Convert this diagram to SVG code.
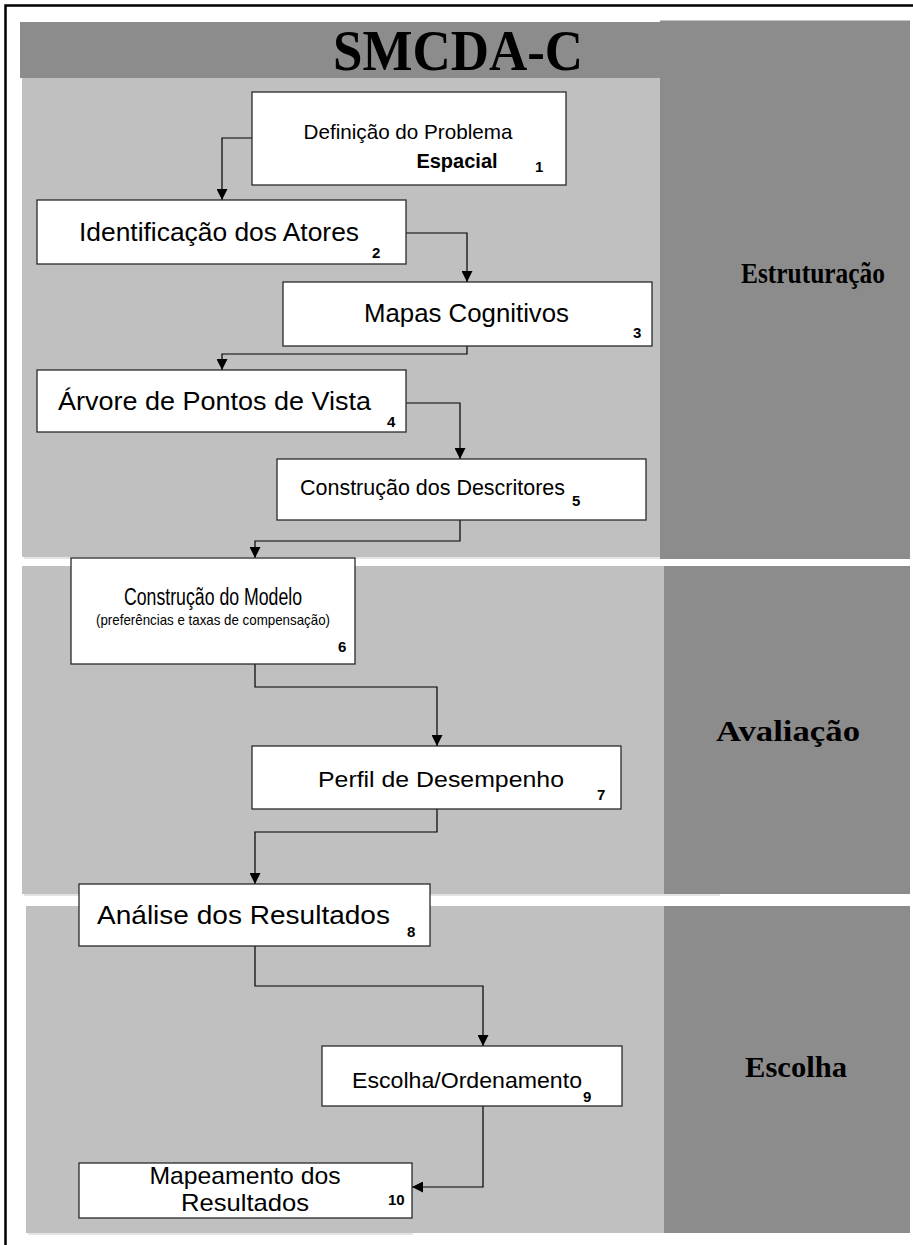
<svg xmlns="http://www.w3.org/2000/svg" width="913" height="1245" viewBox="0 0 913 1245">
  <style>
    .band { fill: #c0c0c0; }
    .strip { fill: #8c8c8c; }
    .shade { fill: #e4e4e4; }
    .box { fill: #ffffff; stroke: #2a2a2a; stroke-width: 1.3; }
    .t { font-family: "Liberation Sans", Arial, sans-serif; fill: #000; }
    .n { font-family: "Liberation Sans", Arial, sans-serif; font-weight: bold; font-size: 15px; fill: #000; }
    .sec { font-family: "Liberation Serif", "Times New Roman", serif; font-weight: bold; font-size: 29px; fill: #000; text-anchor: middle; }
    .conn { fill: none; stroke: #000; stroke-width: 1.2; marker-end: url(#arr); }
  </style>
  <defs>
    <marker id="arr" viewBox="0 0 10 10" refX="10" refY="5" markerWidth="11" markerHeight="11" orient="auto" markerUnits="userSpaceOnUse">
      <path d="M0,0 L10,5 L0,10 z" fill="#000"/>
    </marker>
  </defs>

  <rect width="913" height="1245" fill="#ffffff"/>

  <!-- outer frame (runs off the right and bottom edges) -->
  <path d="M5.5,1245 V5.5 H913" fill="none" stroke="#000" stroke-width="2.5"/>

  <!-- phase bands -->
  <g id="bands">
    <rect class="shade" x="24" y="556" width="703" height="3"/>
    <rect class="shade" x="24" y="893" width="696" height="3"/>
    <rect class="shade" x="28" y="1232" width="385" height="3"/>
    <rect class="band" x="22" y="78" width="640" height="479"/>
    <rect class="band" x="22" y="566" width="644" height="328"/>
    <rect class="band" x="26" y="906" width="640" height="327"/>
    <rect class="strip" x="660" y="20.5" width="250" height="538.5"/>
    <rect class="strip" x="664" y="566" width="246" height="328"/>
    <rect class="strip" x="664" y="906" width="246" height="327"/>
    <rect class="strip" x="20" y="22" width="642" height="56"/>
  </g>

  <g id="title">
    <text x="458" y="70" font-family="'Liberation Serif', 'Times New Roman', serif" font-weight="bold" font-size="58" text-anchor="middle" textLength="250" lengthAdjust="spacingAndGlyphs">SMCDA-C</text>
  </g>

  <g id="phase-labels">
    <text class="sec" x="813" y="283" textLength="144" lengthAdjust="spacingAndGlyphs">Estruturação</text>
    <text class="sec" x="788" y="741" textLength="144" lengthAdjust="spacingAndGlyphs">Avaliação</text>
    <text class="sec" x="796" y="1077" textLength="102" lengthAdjust="spacingAndGlyphs">Escolha</text>
  </g>

  <!-- connectors -->
  <g id="connectors">
    <path class="conn" d="M252,138 H222 V200"/>
    <path class="conn" d="M406,233 H467 V282"/>
    <path class="conn" d="M467,346 V354 H222 V370"/>
    <path class="conn" d="M406,403 H460 V459"/>
    <path class="conn" d="M460,520 V541 H255 V558"/>
    <path class="conn" d="M255,664 V687 H437 V746"/>
    <path class="conn" d="M437,809 V832 H255 V884"/>
    <path class="conn" d="M255,946 V986 H483 V1046"/>
    <path class="conn" d="M483,1106 V1187 H412"/>
  </g>

  <g id="node1">
    <rect class="box" x="252" y="92" width="314" height="93"/>
    <text class="t" x="408" y="139" font-size="21" text-anchor="middle" textLength="209" lengthAdjust="spacingAndGlyphs">Definição do Problema</text>
    <text class="t" x="457" y="168" font-size="20" font-weight="bold" text-anchor="middle">Espacial</text>
    <text class="n" x="535" y="172">1</text>
  </g>

  <g id="node2">
    <rect class="box" x="37" y="200" width="369" height="64"/>
    <text class="t" x="79" y="241" font-size="26" textLength="280" lengthAdjust="spacingAndGlyphs">Identificação dos Atores</text>
    <text class="n" x="372" y="258">2</text>
  </g>

  <g id="node3">
    <rect class="box" x="283" y="282" width="369" height="64"/>
    <text class="t" x="364" y="322" font-size="26" textLength="205" lengthAdjust="spacingAndGlyphs">Mapas Cognitivos</text>
    <text class="n" x="633" y="338">3</text>
  </g>

  <g id="node4">
    <rect class="box" x="37" y="370" width="369" height="62"/>
    <text class="t" x="58" y="410" font-size="26" textLength="313" lengthAdjust="spacingAndGlyphs">Árvore de Pontos de Vista</text>
    <text class="n" x="387" y="427">4</text>
  </g>

  <g id="node5">
    <rect class="box" x="277" y="459" width="369" height="61"/>
    <text class="t" x="300" y="495" font-size="22" textLength="265" lengthAdjust="spacingAndGlyphs">Construção dos Descritores</text>
    <text class="n" x="572" y="506">5</text>
  </g>

  <g id="node6">
    <rect class="box" x="71" y="558" width="284" height="106"/>
    <text class="t" x="124" y="605" font-size="23" textLength="178" lengthAdjust="spacingAndGlyphs">Construção do Modelo</text>
    <text class="t" x="96" y="625" font-size="15" textLength="234" lengthAdjust="spacingAndGlyphs">(preferências e taxas de compensação)</text>
    <text class="n" x="338" y="652">6</text>
  </g>

  <g id="node7">
    <rect class="box" x="252" y="746" width="369" height="63"/>
    <text class="t" x="318" y="787" font-size="22.5" textLength="246" lengthAdjust="spacingAndGlyphs">Perfil de Desempenho</text>
    <text class="n" x="597" y="800">7</text>
  </g>

  <g id="node8">
    <rect class="box" x="79" y="884" width="351" height="62"/>
    <text class="t" x="97" y="924" font-size="25" textLength="293" lengthAdjust="spacingAndGlyphs">Análise dos Resultados</text>
    <text class="n" x="407" y="937">8</text>
  </g>

  <g id="node9">
    <rect class="box" x="322" y="1046" width="300" height="60"/>
    <text class="t" x="352" y="1088" font-size="21.5" textLength="230" lengthAdjust="spacingAndGlyphs">Escolha/Ordenamento</text>
    <text class="n" x="583" y="1102">9</text>
  </g>

  <g id="node10">
    <rect class="box" x="79" y="1163" width="333" height="55"/>
    <text class="t" x="245" y="1184" font-size="24" text-anchor="middle" textLength="191" lengthAdjust="spacingAndGlyphs">Mapeamento dos</text>
    <text class="t" x="245" y="1211" font-size="24" text-anchor="middle" textLength="128" lengthAdjust="spacingAndGlyphs">Resultados</text>
    <text class="n" x="388" y="1205">10</text>
  </g>
</svg>
